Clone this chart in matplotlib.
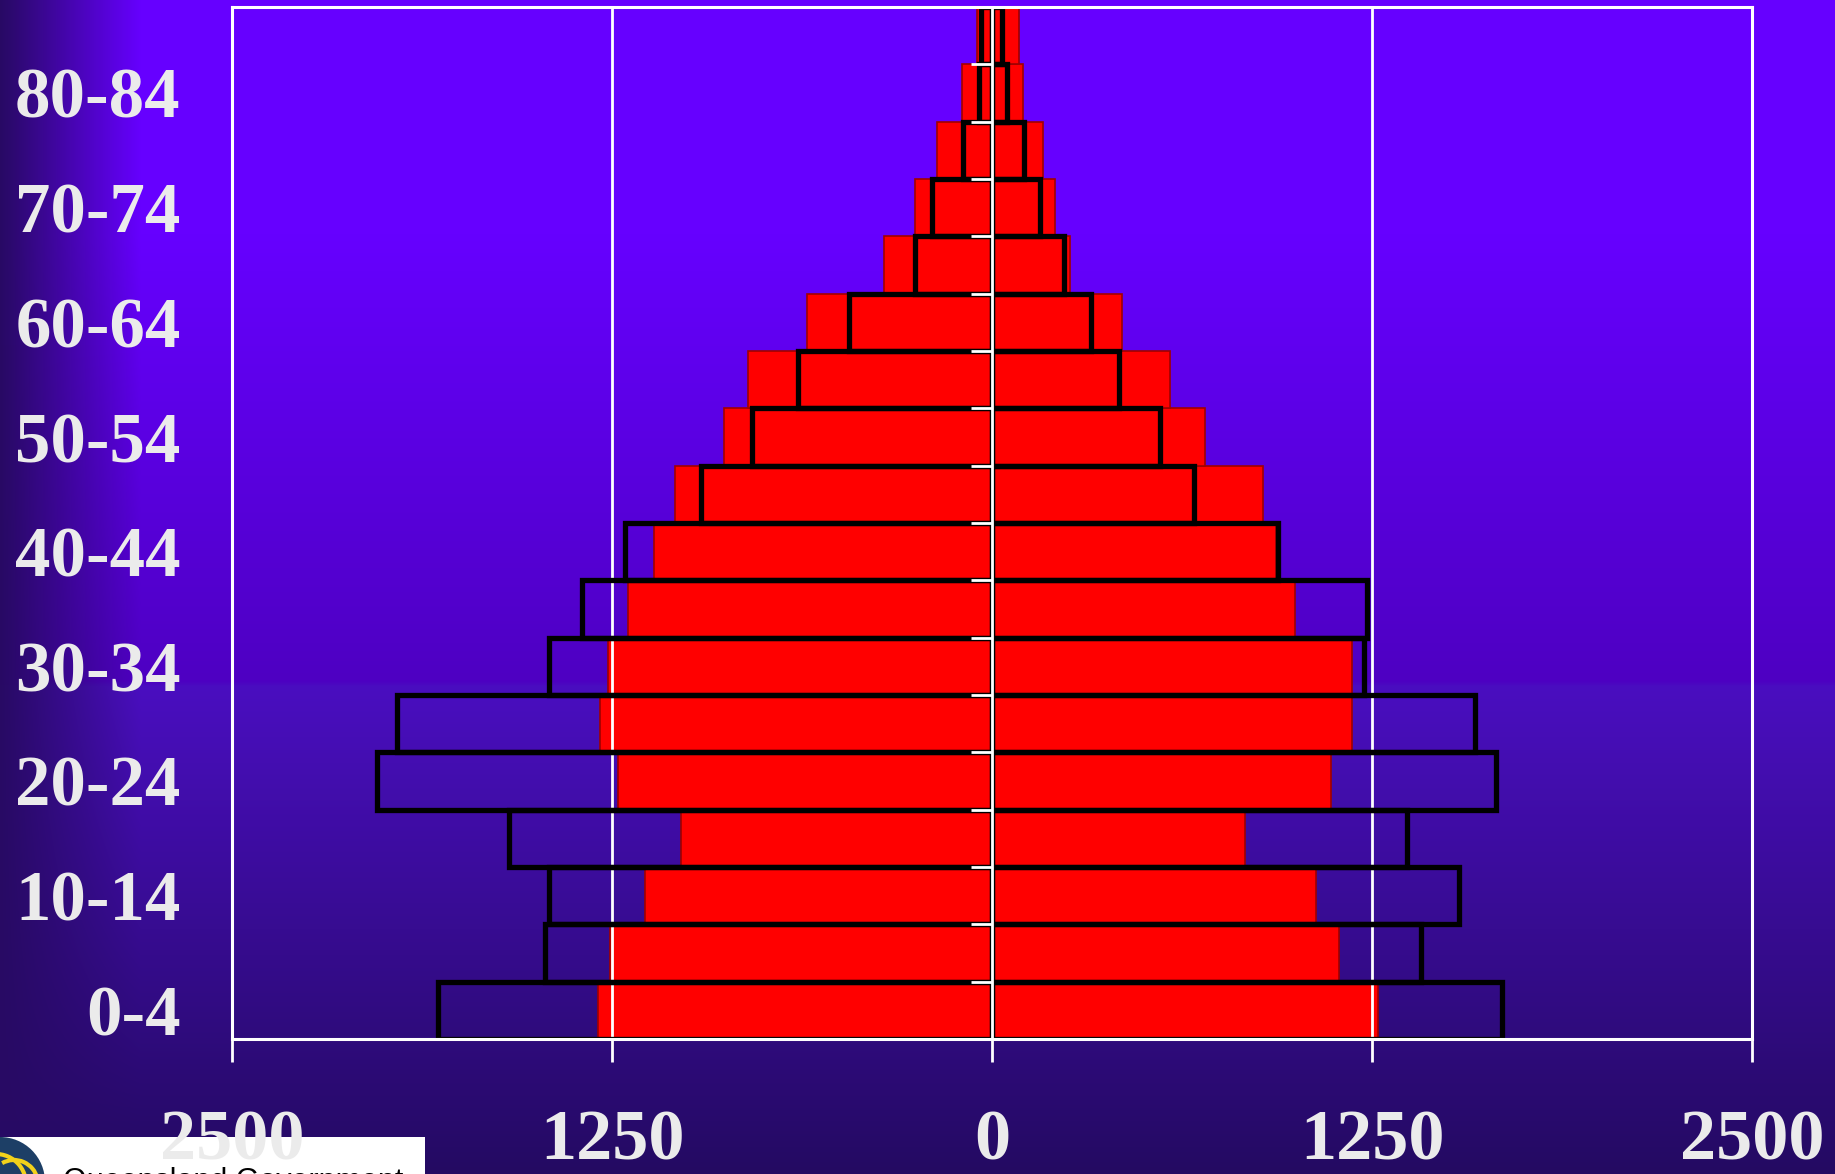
import numpy as np
import matplotlib
matplotlib.use('Agg')
import matplotlib.pyplot as plt
from matplotlib.patches import Rectangle, Ellipse, Arc

matplotlib.rcParams['font.family'] = 'Liberation Serif'
matplotlib.rcParams['font.weight'] = 'bold'

ages = ['0-4', '5-9', '10-14', '15-19', '20-24', '25-29', '30-34', '35-39',
        '40-44', '45-49', '50-54', '55-59', '60-64', '65-69', '70-74',
        '75-79', '80-84', '85+']

# red filled bars
red_left = [1296, 1258, 1142, 1023, 1231, 1288, 1262, 1196, 1112, 1042,
            881, 804, 608, 354, 254, 181, 99, 49]
red_right = [1269, 1142, 1065, 831, 1115, 1185, 1185, 996, 935, 892,
             700, 585, 427, 258, 208, 169, 102, 89]

# black outline bars
blk_left = [1823, 1469, 1458, 1588, 2023, 1958, 1458, 1350, 1208, 958,
            788, 638, 469, 254, 196, 96, 42, 36]
blk_right = [1677, 1411, 1535, 1365, 1658, 1588, 1223, 1235, 942, 665,
             554, 419, 327, 238, 158, 104, 50, 33]

xticks = [-2500, -1250, 0, 1250, 2500]
xlabels = ['2500', '1250', '0', '1250', '2500']

W, H = 1835, 1174
fig = plt.figure(figsize=(W / 100, H / 100), dpi=100)

# background gradient
ax_bg = fig.add_axes([0, 0, 1, 1], zorder=-10)
yy = np.linspace(0, 1, H)
stops = [0.0, 0.2, 0.58, 0.585, 1.0]
cols = np.array([[102, 0, 255], [102, 0, 255], [78, 0, 194],
                 [74, 14, 192], [36, 10, 98]], dtype=float)
vert = np.stack([np.interp(yy, stops, cols[:, i]) for i in range(3)], axis=1)
xx = np.arange(W)
w = np.clip(xx / 140.0, 0, 1)[None, :, None]
dark = np.array([40, 10, 100], dtype=float)[None, None, :]
img = dark * (1 - w) + vert[:, None, :] * w
ax_bg.imshow(img.astype(np.uint8), aspect='auto', extent=[0, 1, 0, 1])
ax_bg.set_axis_off()

# logo box (drawn below the tick labels)
fig.patches.append(Rectangle((0, 0), 425 / W, 37 / H, transform=fig.transFigure,
                             facecolor='white', edgecolor='none', zorder=-5))
fig.patches.append(Ellipse((0, -8 / H), 90 / W, 90 / H, transform=fig.transFigure,
                           facecolor='#1d3f66', edgecolor='none', zorder=-4))
for cx, r in [(-4, 30), (14, 24)]:
    fig.patches.append(Arc((cx / W, -10 / H), 2 * r / W, 2 * r / H, theta1=20,
                           theta2=110, transform=fig.transFigure,
                           color='#f2d21b', linewidth=3, zorder=-3))
fig.text(63 / W, 7 / H, 'Queensland Government', family='Liberation Sans',
         weight='normal', fontsize=22, color='black', va='top', ha='left',
         zorder=-3)

ax = fig.add_axes([232 / W, 135 / H, 1520 / W, 1032 / H])
ax.set_facecolor('none')

y = np.arange(len(ages))
ax.barh(y, [-v for v in red_left], height=1.0, color='#ff0000',
        edgecolor='#a00000', linewidth=1.2, zorder=1)
ax.barh(y, red_right, height=1.0, color='#ff0000',
        edgecolor='#a00000', linewidth=1.2, zorder=1)
ax.barh(y, [-v for v in blk_left], height=1.0, fill=False,
        edgecolor='black', linewidth=3.8, zorder=2)
ax.barh(y, blk_right, height=1.0, fill=False,
        edgecolor='black', linewidth=3.8, zorder=2)

ax.set_xlim(-2500, 2500)
ax.set_ylim(-0.5, len(ages) - 0.5)
ax.set_axisbelow('line')
ax.set_xticks(xticks)
ax.set_xticklabels(xlabels)
ax.grid(axis='x', color='white', linewidth=2)
ax.set_yticks(y)
ax.set_yticklabels([a if i % 2 == 0 else '' for i, a in enumerate(ages)])

for s in ax.spines.values():
    s.set_color('white')
    s.set_linewidth(2.2)
    s.set_zorder(3)

ax.tick_params(axis='x', direction='out', length=16.5, width=2, color='white',
               labelcolor='#ebebeb', labelsize=52, pad=34)
ax.tick_params(axis='y', length=0, labelcolor='#ebebeb', labelsize=51, pad=37)

# centre axis with ticks at the bar boundaries
sec = ax.secondary_yaxis(0.5)
sec.set_alignment('left')
sec.set_zorder(10)
sec.set_yticks(np.arange(len(ages) + 1) - 0.5)
sec.set_yticklabels([])
sec.tick_params(axis='y', direction='out', length=15, width=2, color='white')
for s in sec.spines.values():
    s.set_color('white')
    s.set_linewidth(2)

fig.savefig('out.png', dpi=100)
